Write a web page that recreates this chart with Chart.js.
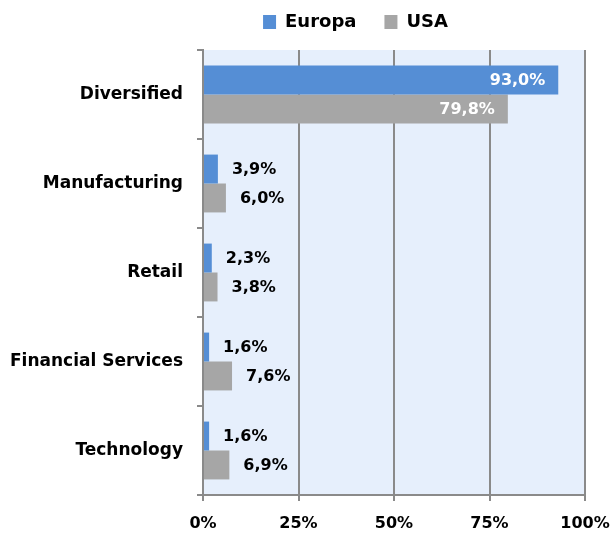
<!DOCTYPE html>
<html>
<head>
<meta charset="utf-8">
<script src="https://cdn.jsdelivr.net/npm/chart.js@4"></script>
<style>
  html, body { margin: 0; padding: 0; background: #fff; }
  #wrap { width: 611px; height: 534px; }
</style>
</head>
<body>
<div id="wrap"><canvas id="chart" width="611" height="534"></canvas></div>
<script>
// Sector split, Europa vs USA
const categories = ['Diversified', 'Manufacturing', 'Retail', 'Financial Services', 'Technology'];
const europaValues = [93.0, 3.9, 2.3, 1.6, 1.6];
const usaValues = [79.8, 6.0, 3.8, 7.6, 6.9];
const xTicks = [0, 25, 50, 75, 100];

const FONT = '"DejaVu Sans", sans-serif';
const AXIS_GRAY = '#8a8a8a';

// light blue plot background
const plotBackground = {
  id: 'plotBackground',
  beforeDraw(chart) {
    const { ctx, chartArea: a } = chart;
    ctx.save();
    ctx.fillStyle = '#e6effc';
    ctx.fillRect(a.left, a.top, a.right - a.left, a.bottom - a.top);
    ctx.restore();
  },
};

// nudge the legend up and right, like the original
const legendPlacement = {
  id: 'legendPlacement',
  afterLayout(chart) {
    const lg = chart.legend;
    if (!lg) return;
    const h = lg.bottom - lg.top;
    lg.top = -15;
    lg.bottom = lg.top + h;
    lg.left = 100;
    lg.right = 611;
  },
};

// value labels: inside end for big bars, outside for small ones
const valueLabels = {
  id: 'valueLabels',
  afterDatasetsDraw(chart) {
    const { ctx } = chart;
    ctx.save();
    ctx.font = 'bold 16px ' + FONT;
    ctx.textBaseline = 'middle';
    chart.data.datasets.forEach((ds, i) => {
      const meta = chart.getDatasetMeta(i);
      meta.data.forEach((bar, j) => {
        const v = ds.data[j];
        const text = v.toFixed(1).replace('.', ',') + '%';
        if (v > 50) {
          ctx.fillStyle = '#ffffff';
          ctx.textAlign = 'right';
          ctx.fillText(text, bar.x - 13, bar.y + 1);
        } else {
          ctx.fillStyle = '#000000';
          ctx.textAlign = 'left';
          ctx.fillText(text, bar.x + 14, bar.y + 1);
        }
      });
    });
    ctx.restore();
  },
};

new Chart(document.getElementById('chart'), {
  type: 'bar',
  data: {
    labels: categories,
    datasets: [
      {
        label: 'Europa',
        data: europaValues,
        backgroundColor: '#558ed5',
        categoryPercentage: 0.65,
        barPercentage: 1.0,
      },
      {
        label: 'USA',
        data: usaValues,
        backgroundColor: '#a6a6a6',
        categoryPercentage: 0.65,
        barPercentage: 1.0,
      },
    ],
  },
  options: {
    indexAxis: 'y',
    responsive: false,
    animation: false,
    layout: { padding: { top: -6, right: 0, bottom: 0, left: 0 } },
    scales: {
      x: {
        min: 0,
        max: 100,
        afterBuildTicks: (scale) => {
          scale.ticks = xTicks.map((v) => ({ value: v }));
        },
        afterFit: (scale) => {
          scale.height = 39;
          scale.paddingRight = 26;
        },
        border: { display: true, color: AXIS_GRAY, width: 2 },
        grid: {
          color: (c) => (c.tick && c.tick.value === 0 ? 'rgba(0,0,0,0)' : AXIS_GRAY),
          lineWidth: 2,
          tickColor: AXIS_GRAY,
          tickLength: 6,
        },
        ticks: {
          color: '#000',
          font: { family: FONT, size: 16, weight: 'bold' },
          padding: 13,
          maxRotation: 0,
          callback: (v) => v + '%',
        },
      },
      y: {
        afterFit: (scale) => { scale.width = 203; },
        border: { display: true, color: AXIS_GRAY, width: 2 },
        grid: {
          drawOnChartArea: false,
          drawTicks: true,
          tickLength: 6,
          tickColor: AXIS_GRAY,
          lineWidth: 2,
        },
        ticks: {
          color: '#000',
          font: { family: FONT, size: 17, weight: 'bold' },
          padding: 14,
        },
      },
    },
    plugins: {
      legend: {
        position: 'top',
        labels: {
          color: '#000',
          font: { family: FONT, size: 18, weight: 'bold' },
          boxWidth: 13,
          boxHeight: 14,
          padding: 28,
        },
      },
      tooltip: { enabled: false },
    },
  },
  plugins: [plotBackground, legendPlacement, valueLabels],
});
</script>
</body>
</html>
